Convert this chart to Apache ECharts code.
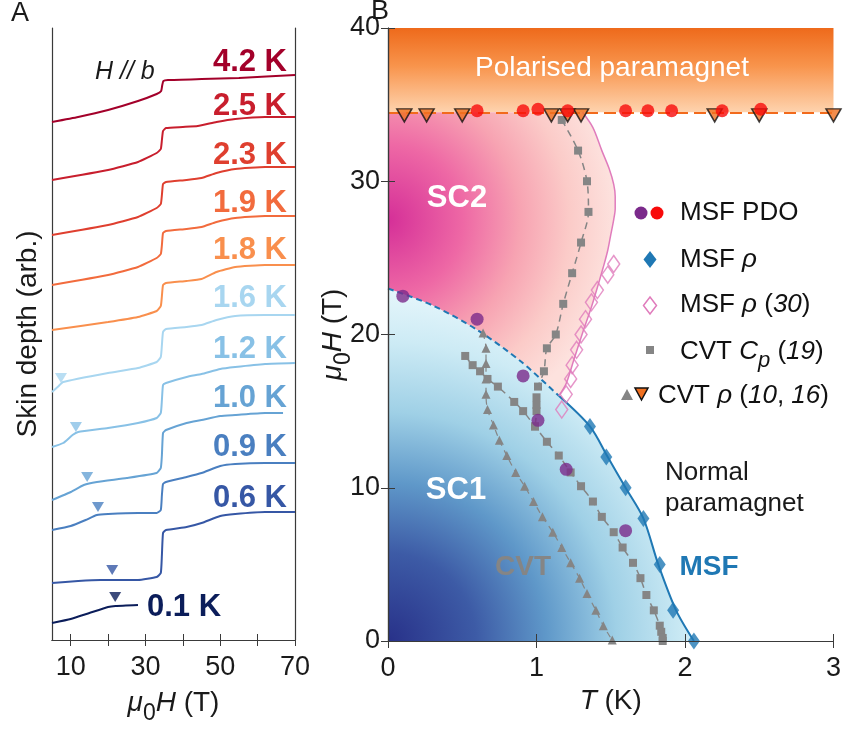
<!DOCTYPE html>
<html><head><meta charset="utf-8">
<script src="https://cdn.jsdelivr.net/npm/echarts@6/dist/echarts.min.js"></script>
<style>html,body{margin:0;padding:0;background:#fff}#c{width:844px;height:733px}</style>
</head><body><div id="c"></div>
<script>
// ---------------- Panel A data: field sweeps [mu0H (T), skin depth (arb., offset)] ----------------
const tempLabels = ['4.2 K','2.5 K','2.3 K','1.9 K','1.8 K','1.6 K','1.2 K','1.0 K','0.9 K','0.6 K','0.1 K'];
const curve42 = [[5,5.18],[12,5.23],[20,5.30],[28,5.39],[33,5.46],[34.2,5.49],[34.5,5.55],[34.8,5.59],[36,5.60],[45,5.61],[55,5.62],[70,5.65]];
const curve25 = [[5,4.60],[20,4.70],[28,4.78],[33,4.87],[34.1,4.91],[34.4,5.00],[34.7,5.09],[35.5,5.12],[40,5.13],[44,5.14],[49,5.18],[54,5.21],[62,5.23],[70,5.23]];
const curve23 = [[5,4.05],[20,4.15],[28,4.23],[33,4.32],[34.1,4.36],[34.4,4.45],[34.7,4.56],[35.5,4.58],[41,4.60],[45,4.62],[49,4.67],[54,4.71],[62,4.73],[70,4.73]];
const curve19 = [[5,3.55],[20,3.65],[28,3.73],[33,3.82],[34.1,3.86],[34.4,3.95],[34.7,4.07],[35.5,4.09],[41,4.11],[45,4.13],[49,4.18],[54,4.22],[62,4.24],[70,4.24]];
const curve18 = [[5,3.10],[20,3.18],[28,3.23],[33,3.29],[34.1,3.34],[34.4,3.44],[34.7,3.55],[35.5,3.57],[41,3.59],[45,3.61],[49,3.68],[54,3.73],[62,3.75],[70,3.75]];
const curve16 = [[5,2.48],[6.5,2.53],[8,2.58],[20,2.67],[28,2.72],[33,2.78],[34.1,2.83],[34.4,2.95],[34.7,3.08],[35.5,3.11],[41,3.13],[45,3.15],[49,3.20],[54,3.24],[62,3.25],[70,3.25]];
const curve12 = [[5,1.93],[8,1.97],[10.5,2.05],[12,2.08],[20,2.12],[28,2.17],[33,2.22],[34.1,2.27],[34.4,2.40],[34.7,2.55],[35.5,2.57],[41,2.63],[45,2.66],[50,2.71],[54,2.73],[62,2.76],[70,2.77]];
const curve10 = [[5,1.40],[10,1.48],[13.5,1.55],[17,1.58],[25,1.62],[33,1.67],[34.1,1.72],[34.4,1.85],[34.7,2.07],[35.5,2.10],[41,2.17],[45,2.20],[50,2.24],[54,2.25],[62,2.27],[66.8,2.27]];
const curve09 = [[5,1.10],[10,1.14],[14,1.20],[17,1.25],[20,1.26],[28,1.27],[33,1.27],[34.1,1.30],[34.4,1.45],[34.7,1.56],[35.5,1.58],[41,1.63],[45,1.67],[50,1.74],[54,1.76],[62,1.77],[70,1.77]];
const curve06 = [[5,0.57],[12,0.59],[18,0.60],[24,0.60],[28,0.60],[33,0.63],[34.1,0.67],[34.4,0.85],[34.7,1.07],[35.5,1.10],[41,1.13],[45,1.17],[50,1.24],[54,1.26],[62,1.28],[70,1.28]];
const curve01 = [[5,0.17],[10,0.21],[15,0.27],[20,0.33],[22,0.34],[28,0.35]];
const sweeps = [curve42,curve25,curve23,curve19,curve18,curve16,curve12,curve10,curve09,curve06,curve01];
// onset markers (down triangles) for 1.6, 1.2, 1.0, 0.9, 0.6, 0.1 K
const onsetMarkers = [[7.4,2.62],[11.4,2.13],[14.4,1.63],[17.3,1.33],[21.1,0.70],[21.9,0.43]];
const xTicksA = [10,20,30,40,50,60,70];
const xLabelsA = [10,30,50,70];

// ---------------- Panel B data: phase diagram [T (K), mu0H (T)] ----------------
const pdoPurple = [[0.10,22.5],[0.60,21.0],[0.91,17.3],[1.01,14.4],[1.20,11.2],[1.60,7.2]];
const pdoRed = [[0.60,34.6],[0.91,34.6],[1.01,34.7],[1.21,34.6],[1.60,34.6],[1.75,34.6],[1.91,34.6],[2.25,34.6],[2.51,34.7]];
const msfRho = [[1.36,14.0],[1.47,12.0],[1.60,10.0],[1.72,8.0],[1.83,5.0],[1.92,2.0],[2.06,0]];
const msfRho30 = [[1.52,24.6],[1.48,23.9],[1.41,22.9],[1.37,22.1],[1.33,21.0],[1.30,20.0],[1.27,19.0],[1.24,18.0],[1.23,17.1],[1.20,16.1],[1.17,15.1]];
const cvtCpUpper = [[1.17,34.0],[1.28,32.0],[1.34,30.0],[1.35,28.0],[1.30,26.0],[1.24,24.0],[1.18,22.0],[1.13,20.0],[1.07,19.1],[1.05,17.6],[1.01,16.6],[1.00,15.9],[1.00,15.4],[1.00,15.0],[0.99,14.0]];
const cvtCpLower = [[0.52,18.6],[0.57,18.0],[0.62,17.6],[0.67,17.1],[0.74,16.6],[0.85,15.6],[0.91,15.0],[0.99,14.0],[1.07,13.0],[1.15,12.1],[1.23,11.0],[1.30,10.1],[1.38,9.1],[1.44,8.1],[1.52,7.1],[1.58,6.1],[1.65,5.1],[1.70,4.1],[1.74,3.0],[1.79,2.0],[1.83,1.0],[1.84,0.6],[1.85,0.2],[1.85,0]];
const cvtRhoTri = [[0.64,20.1],[0.66,19.1],[0.66,18.1],[0.66,17.1],[0.66,16.1],[0.67,15.1],[0.71,14.1],[0.75,13.1],[0.80,12.1],[0.86,11.0],[0.92,10.1],[0.98,9.1],[1.04,8.1],[1.11,7.1],[1.17,6.1],[1.23,5.1],[1.29,4.1],[1.34,3.1],[1.40,2.0],[1.45,1.0],[1.51,0.06]];
const cvtRhoTop = [[0.11,34.3],[0.26,34.3],[0.50,34.3],[1.10,34.3],[1.21,34.3],[1.30,34.3],[2.20,34.3],[2.50,34.3],[3.00,34.3]];
const msfBoundaryDashed = [[0,23.0],[0.3,21.9],[0.6,20.3],[0.9,18.2],[1.15,16.0]];
const msfBoundarySolid = [[1.15,16.0],[1.36,14.0],[1.48,12.0],[1.60,10.0],[1.72,8.0],[1.82,5.0],[1.94,2.0],[2.06,0]];
const sc2Boundary = [[1.31,34.5],[1.38,33.5],[1.44,32.0],[1.49,30.8],[1.52,29.8],[1.53,29.0],[1.53,28.2],[1.52,27.5],[1.50,26.5],[1.48,25.5],[1.45,24.4],[1.42,23.4],[1.37,21.8],[1.31,20.1],[1.25,18.3],[1.20,16.8],[1.15,16.0]];
const polarisedField = 34.5;
const fieldMaxB = 40;

// ---------------- styles ----------------
const FONT = '"Liberation Sans", Arial, Helvetica, sans-serif';
const sweepColors = ['#a3002a','#c81e2d','#df3f2f','#f26b3d','#f98f4d','#a8d6f0','#88c1e6','#66a3d4','#4a7fc0','#3657a5','#0b1d5a'];
const onsetColors = ['#a8d6f0','#88c1e6','#66a3d4','#4a7fc0','#3657a5','#0b1d5a'];
const labelPos = [[287,62],[287,106],[287,155],[287,203],[287,250],[287,298],[287,349],[287,398],[287,447],[287,498],[147,607]];
const TXT = '#1a1a1a', AX = '#3a3a3a';
const grayC = '#858585';

const series = [];
sweeps.forEach((d,i)=>{
  series.push({type:'line', xAxisIndex:0, yAxisIndex:0, data:d, showSymbol:false, smooth:0.15,
    lineStyle:{width:2, color:sweepColors[i]}, silent:true, z:3});
});
series.push({type:'scatter', xAxisIndex:0, yAxisIndex:0, data:onsetMarkers, symbol:'triangle', symbolRotate:180,
  symbolSize:[12,10], itemStyle:{color:(p)=>onsetColors[p.dataIndex]}, z:4, silent:true});

// Panel B: polarised band & PPM dashed line
series.push({type:'line', xAxisIndex:2, yAxisIndex:2, data:[], silent:true,
  markArea:{silent:true, z:1, itemStyle:{color:new echarts.graphic.LinearGradient(0,0,0,1,[
    {offset:0,color:'#ee6a1b'},{offset:0.45,color:'#f8944c'},{offset:1,color:'#fed3ae'}])},
    data:[[{yAxis:polarisedField},{yAxis:fieldMaxB}]]},
  markLine:{silent:true, symbol:'none', label:{show:false}, z:3,
    lineStyle:{color:'#f26a1c', width:2.2, type:[12,6]}, data:[{yAxis:polarisedField}]}
});
// SC2 region
series.push({type:'custom', xAxisIndex:2, yAxisIndex:2, data:[[0,0]], z:1, silent:true,
  renderItem:function(params, api){
    const pts=[api.coord([0,polarisedField])];
    sc2Boundary.forEach(p=>pts.push(api.coord(p)));
    msfBoundaryDashed.slice().reverse().forEach(p=>pts.push(api.coord(p)));
    return {type:'polygon', shape:{points:pts}, style:{fill:new echarts.graphic.RadialGradient(0,0.38,1.0,[
      {offset:0,color:'#d52f98'},{offset:0.33,color:'#ee68a5'},{offset:0.58,color:'#f7a3b2'},{offset:0.8,color:'#fbcbc8'},{offset:1,color:'#fde2de'}])}};
  }});
// SC1 region
series.push({type:'line', xAxisIndex:2, yAxisIndex:2, data:msfBoundaryDashed.concat(msfBoundarySolid.slice(1)),
  showSymbol:false, smooth:0.3, lineStyle:{width:0, opacity:0}, silent:true, z:1,
  areaStyle:{opacity:1, color:new echarts.graphic.RadialGradient(0,1,1.15,[
    {offset:0,color:'#283189'},{offset:0.25,color:'#3d5ba6'},{offset:0.45,color:'#5f98c9'},{offset:0.65,color:'#9fd0e6'},{offset:0.85,color:'#cdebf5'},{offset:1,color:'#e6f6fb'}])}});
// boundary lines
series.push({type:'line', xAxisIndex:2, yAxisIndex:2, data:msfBoundaryDashed, showSymbol:false, smooth:0.3, clip:false,
  lineStyle:{width:2, color:'#1f78b4', type:[6,4]}, silent:true, z:3});
series.push({type:'line', xAxisIndex:2, yAxisIndex:2, data:msfBoundarySolid, showSymbol:false, smooth:0.3, clip:false,
  lineStyle:{width:2, color:'#1f78b4'}, silent:true, z:3});
series.push({type:'line', xAxisIndex:2, yAxisIndex:2, data:sc2Boundary, showSymbol:false, smooth:0.3, clip:false,
  lineStyle:{width:1.5, color:'#e07cbc'}, silent:true, z:3});
// CVT gray
[cvtCpUpper, cvtCpLower].forEach(d=>series.push({type:'line', xAxisIndex:2, yAxisIndex:2, data:d, smooth:0.3, clip:false,
  symbol:'rect', symbolSize:8, itemStyle:{color:grayC}, lineStyle:{color:grayC, width:1.5, type:[7,5]}, silent:true, z:4}));
series.push({type:'line', xAxisIndex:2, yAxisIndex:2, data:cvtRhoTri, smooth:0.3, clip:false,
  symbol:'triangle', symbolSize:9, itemStyle:{color:grayC}, lineStyle:{color:grayC, width:1.2, type:[6,5]}, silent:true, z:4});
// MSF markers
series.push({type:'scatter', xAxisIndex:2, yAxisIndex:2, data:msfRho30, symbol:'diamond', symbolSize:[12,17], clip:false,
  itemStyle:{color:'rgba(255,255,255,0)', borderColor:'#e07cbc', borderWidth:1.5}, silent:true, z:5});
series.push({type:'scatter', xAxisIndex:2, yAxisIndex:2, data:msfRho, symbol:'diamond', symbolSize:[12,17], clip:false,
  itemStyle:{color:'#1f78b4'}, silent:true, z:5});
series.push({type:'scatter', xAxisIndex:2, yAxisIndex:2, data:pdoPurple, symbol:'circle', symbolSize:13, clip:false,
  itemStyle:{color:'#7b2a8b'}, silent:true, z:5});
series.push({type:'scatter', xAxisIndex:2, yAxisIndex:2, data:cvtRhoTop, symbol:'triangle', symbolRotate:180, symbolSize:[15,13], clip:false,
  itemStyle:{color:'#f07020', borderColor:'#111', borderWidth:1.5}, silent:true, z:5});
series.push({type:'scatter', xAxisIndex:2, yAxisIndex:2, data:pdoRed, symbol:'circle', symbolSize:13, clip:false,
  itemStyle:{color:'#f80a0a'}, silent:true, z:6});

const tickLab = {fontSize:27, color:TXT, fontFamily:FONT};
const axLine = {show:true, lineStyle:{color:AX, width:1.2}};
const muH = {
  i:{fontStyle:'italic', fontSize:28, fontFamily:FONT, color:TXT},
  s:{fontSize:23, fontFamily:FONT, color:TXT, padding:[20,0,0,0]},
  n:{fontSize:28, fontFamily:FONT, color:TXT}
};

const graphic = [];
tempLabels.forEach((t,i)=>{
  graphic.push({type:'text', x:labelPos[i][0], y:labelPos[i][1], silent:true,
    style:{text:t, fill:sweepColors[i], font:'bold 31px '+FONT, align:i===10?'left':'right', verticalAlign:'middle'}});
});
graphic.push({type:'text', x:95, y:72, silent:true, style:{text:'H // b', fill:TXT, font:'italic 25px '+FONT, align:'left', verticalAlign:'middle'}});
graphic.push({type:'text', x:11, y:14, silent:true, style:{text:'A', fill:TXT, font:'27px '+FONT, align:'left', verticalAlign:'middle'}});
graphic.push({type:'text', x:371, y:12, silent:true, style:{text:'B', fill:TXT, font:'27px '+FONT, align:'left', verticalAlign:'middle'}});
// panel B annotations
const ann = [
  ['Polarised paramagnet',612,68,'28px','#ffffff','center'],
  ['SC2',457,198,'bold 31px','#ffffff','center'],
  ['SC1',456,490,'bold 31px','#ffffff','center'],
  ['CVT',523,567,'bold 28px',grayC,'center'],
  ['MSF',709,567,'bold 28px','#1f78b4','center'],
  ['Normal',665,473,'26px',TXT,'left'],
  ['paramagnet',665,504,'26px',TXT,'left']
];
ann.forEach(a=>graphic.push({type:'text', x:a[1], y:a[2], silent:true, z:20,
  style:{text:a[0], font:a[3]+' '+FONT, fill:a[4], align:a[5], verticalAlign:'middle'}}));
// legend
const legRich = {
  i:{fontStyle:'italic', fontSize:26, fontFamily:FONT, fill:'#111'},
  s:{fontStyle:'italic', fontSize:22, fontFamily:FONT, fill:'#111', padding:[18,0,0,0]},
  n:{fontSize:26, fontFamily:FONT, fill:'#111'}
};
const legItems = [
  ['{n|MSF PDO}',680,213],
  ['{n|MSF }{i|ρ}',680,260],
  ['{n|MSF }{i|ρ}{n| (}{i|30}{n|)}',680,305],
  ['{n|CVT }{i|C}{s|p}{n| (}{i|19}{n|)}',680,352],
  ['{n|CVT }{i|ρ}{n| (}{i|10}{n|, }{i|16}{n|)}',658,396]
];
legItems.forEach(l=>graphic.push({type:'text', x:l[1], y:l[2], silent:true, z:20,
  style:{text:l[0], rich:legRich, font:'26px '+FONT, fill:'#111', align:'left', verticalAlign:'middle'}}));
graphic.push({type:'circle', shape:{cx:641, cy:213, r:6.5}, style:{fill:'#7b2a8b'}, silent:true, z:20});
graphic.push({type:'circle', shape:{cx:657, cy:213, r:6.5}, style:{fill:'#f80a0a'}, silent:true, z:20});
graphic.push({type:'polygon', shape:{points:[[650,251],[656.5,259.5],[650,268],[643.5,259.5]]}, style:{fill:'#1f78b4'}, silent:true, z:20});
graphic.push({type:'polygon', shape:{points:[[650,297],[656.5,305.5],[650,314],[643.5,305.5]]}, style:{fill:'#fff', stroke:'#e07cbc', lineWidth:1.5}, silent:true, z:20});
graphic.push({type:'rect', shape:{x:646, y:346, width:8, height:8}, style:{fill:grayC}, silent:true, z:20});
graphic.push({type:'polygon', shape:{points:[[621,400],[633,400],[627,389]]}, style:{fill:grayC}, silent:true, z:20});
graphic.push({type:'polygon', shape:{points:[[635,388],[648,388],[641.5,400]]}, style:{fill:'#f07020', stroke:'#111', lineWidth:1.5}, silent:true, z:20});

const option = {
  animation:false,
  backgroundColor:'#fff',
  grid:[
    {left:52, top:28, width:243, height:612, show:false},
    {left:388, top:28, width:447, height:613, show:false}
  ],
  xAxis:[
    {gridIndex:0, type:'value', min:5, max:70, position:'bottom', axisLine:axLine,
     axisTick:{inside:true, length:6, customValues:xTicksA, lineStyle:{color:AX}},
     axisLabel:Object.assign({customValues:xLabelsA, margin:14}, tickLab), splitLine:{show:false},
     name:'{i|μ}{s|0}{i|H}{n| (T)}', nameLocation:'middle', nameGap:42, nameTextStyle:{rich:muH}},
    {gridIndex:0, type:'value', min:5, max:70, position:'top', axisLine:axLine,
     axisTick:{inside:true, length:6, customValues:xTicksA, lineStyle:{color:AX}},
     axisLabel:{show:false}, splitLine:{show:false}},
    {gridIndex:1, type:'value', min:0, max:3, interval:1, position:'bottom', axisLine:axLine, z:10,
     axisTick:{inside:true, length:7, lineStyle:{color:AX}},
     axisLabel:Object.assign({margin:14}, tickLab), splitLine:{show:false},
     name:'{i|T}{n| (K)}', nameLocation:'middle', nameGap:44, nameTextStyle:{rich:muH}},
    {gridIndex:1, type:'value', min:0, max:3, interval:1, position:'top', axisLine:axLine, z:10,
     axisTick:{inside:true, length:7, lineStyle:{color:AX}}, axisLabel:{show:false}, splitLine:{show:false}}
  ],
  yAxis:[
    {gridIndex:0, type:'value', min:0, max:6.12, position:'left', axisLine:axLine, axisTick:{show:false},
     axisLabel:{show:false}, splitLine:{show:false},
     name:'Skin depth (arb.)', nameLocation:'middle', nameGap:10, nameTextStyle:{fontSize:28, color:TXT, fontFamily:FONT}},
    {gridIndex:0, type:'value', min:0, max:6.12, position:'right', axisLine:axLine, axisTick:{show:false},
     axisLabel:{show:false}, splitLine:{show:false}},
    {gridIndex:1, type:'value', min:0, max:fieldMaxB, interval:10, position:'left', axisLine:axLine, z:10,
     axisTick:{inside:true, length:7, lineStyle:{color:AX}},
     axisLabel:Object.assign({margin:8}, tickLab), splitLine:{show:false},
     name:'{i|μ}{s|0}{i|H}{n| (T)}', nameLocation:'middle', nameGap:33, nameMoveOverlap:false, nameTextStyle:{rich:muH}},
    {gridIndex:1, type:'value', min:0, max:fieldMaxB, interval:10, position:'right', axisLine:axLine, z:10,
     axisTick:{inside:true, length:7, lineStyle:{color:AX}}, axisLabel:{show:false}, splitLine:{show:false}}
  ],
  series:series,
  graphic:graphic
};
const chart = echarts.init(document.getElementById('c'));
chart.setOption(option);
</script></body></html>
